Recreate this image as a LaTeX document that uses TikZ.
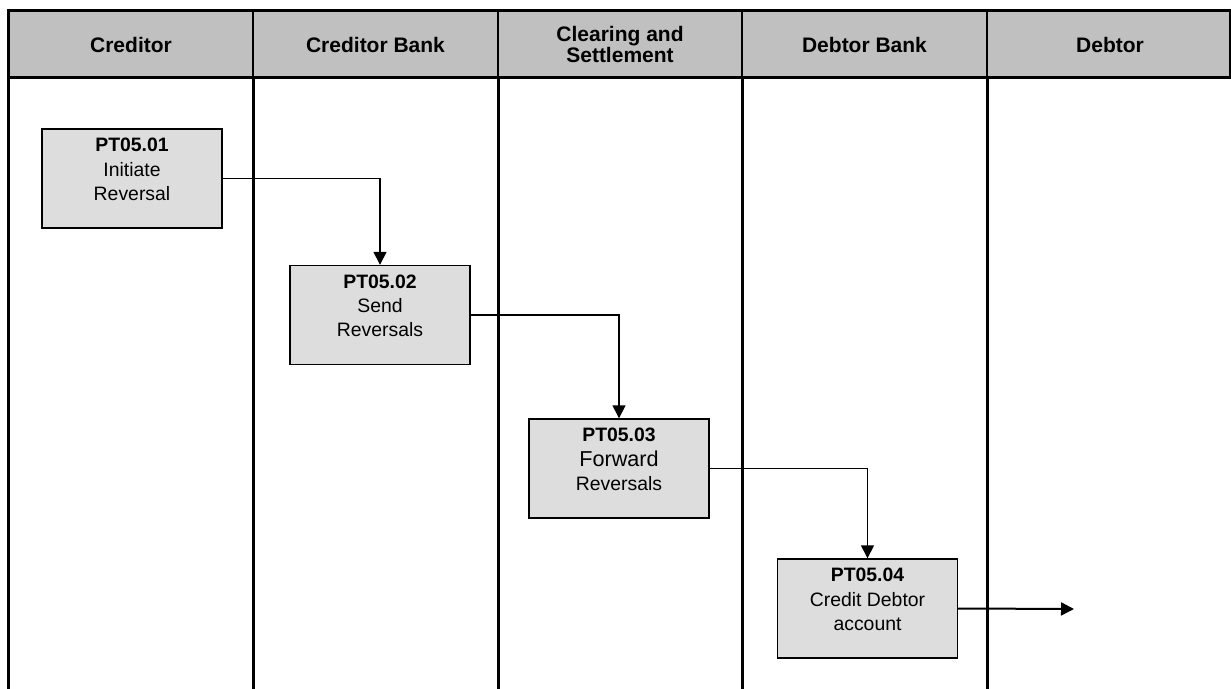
\documentclass[tikz,border=0pt]{standalone}
\usepackage{fontspec}
\setmainfont{Liberation Sans}
\usetikzlibrary{arrows.meta}

\definecolor{headgrey}{HTML}{C0C0C0}
\definecolor{taskgrey}{HTML}{DDDDDD}

\begin{document}
\begin{tikzpicture}[x=0.5pt, y=-0.5pt,
  lane/.style={font=\bfseries\fontsize{10.5}{10.5}\selectfont, align=center},
  task/.style={draw, line width=0.7pt, fill=taskgrey, minimum width=90pt,
    minimum height=49.5pt, inner sep=0pt, align=center,
    font=\fontsize{9.7}{12.2}\selectfont},
  flow/.style={line width=0.75pt, -{Triangle[length=6.5pt,width=6.5pt]}}]
  \useasboundingbox (0,0) rectangle (1231,689);

  % header
  \fill[headgrey] (8,11) rectangle (1230,78);
  \foreach \x in {253,498,742,987}
    \draw[line width=1pt] (\x,11) -- (\x,78);
  \draw[line width=1.5pt] (8,11) rectangle (1230,78);

  \node[lane] (creditor) at (131,44.5) {Creditor};
  \node[lane] (crbank) at (375.5,44.5) {Creditor Bank};
  \node[lane] (clearing) at (620,44.5) {Clearing and\\Settlement};
  \node[lane] (dbbank) at (864.5,44.5) {Debtor Bank};
  \node[lane] (debtor) at (1110,44.5) {Debtor};

  % lanes
  \foreach \x in {8,253,498,742,987}
    \draw[line width=1.5pt] (\x,78) -- (\x,689);

  % tasks
  \node[task] (t1) at (132,178.5) {\textbf{PT05.01}\\Initiate\\Reversal\\[-3pt]~};
  \node[task] (t2) at (380,315) {\textbf{PT05.02}\\Send\\Reversals\\[-3pt]~};
  \node[task] (t3) at (619,468.5) {\textbf{PT05.03}\\{\fontsize{10.8}{12.2}\selectfont Forward}\\Reversals\\[-3pt]~};
  \node[task] (t4) at (867.5,608.5) {\textbf{PT05.04}\\Credit Debtor\\account\\[-3pt]~};
  \coordinate (out) at (1074,609);

  \draw[flow] (t1.east) -| (t2.north);
  \draw[flow] (t2.east) -| (t3.north);
  \draw[flow] (t3.east) -| (t4.north);
  \draw[flow, line width=1pt] (t4.east) -- (out);
\end{tikzpicture}
\end{document}
